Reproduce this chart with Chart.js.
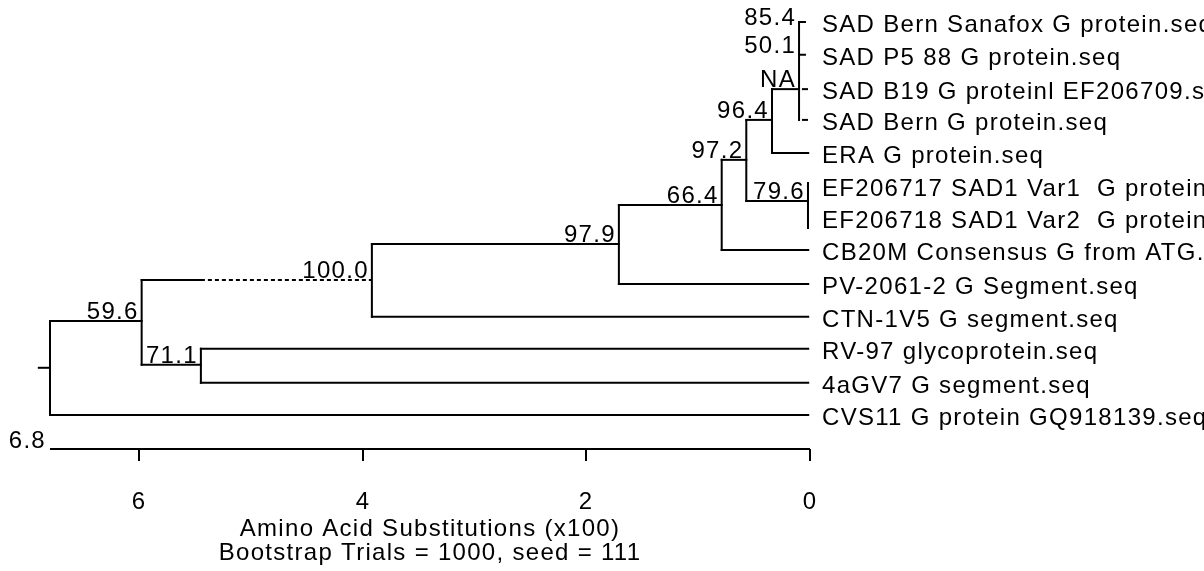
<!DOCTYPE html>
<html><head><meta charset="utf-8">
<script src="https://cdn.jsdelivr.net/npm/chart.js@4.4.1/dist/chart.umd.min.js"></script>
<style>html,body{margin:0;padding:0;background:#fff;overflow:hidden}#wrap{width:1204px;height:571px;position:relative}</style>
</head><body><div id="wrap"><canvas id="c" width="1204" height="571"></canvas></div>
<script>
// ---- leaves (taxa) ----
const leafNames = [
  'SAD Bern Sanafox G protein.seq',
  'SAD P5 88 G protein.seq',
  'SAD B19 G proteinl EF206709.seq',
  'SAD Bern G protein.seq',
  'ERA G protein.seq',
  'EF206717 SAD1 Var1  G protein.seq',
  'EF206718 SAD1 Var2  G protein.seq',
  'CB20M Consensus G from ATG.seq',
  'PV-2061-2 G Segment.seq',
  'CTN-1V5 G segment.seq',
  'RV-97 glycoprotein.seq',
  '4aGV7 G segment.seq',
  'CVS11 G protein GQ918139.seq'
];
const leafRow  = [0, 1, 2.05, 2.99, 4.0, 5.0, 6.0, 6.96, 8.0, 9.0, 9.98, 11.02, 12.0];
const leafFrom = [0.098, 0.098, 0.063, 0.063, 0.34, 0.018, 0.018, 0.79, 1.71, 3.92, 5.45, 5.45, 6.8];
const leafTo   = [0.045, 0.045, 0.027, 0.027, 0.016, 0.018, 0.018, 0.016, 0.016, 0.016, 0.016, 0.016, 0.016];

// ---- internal nodes ----
const nodeLabels     = ['NA', '79.6', '96.4', '97.2', '66.4', '97.9', '100.0', '71.1', '59.6', ''];
const nodeDist       = [0.098, 0.018, 0.34, 0.57, 0.79, 1.71, 3.92, 5.45, 5.98, 6.8];
const nodeParentDist = [0.34, 0.57, 0.57, 0.79, 1.71, 3.92, 5.98, 5.98, 6.8, 6.9];
const nodeRow        = [2.05, 5.47, 2.99, 4.21, 5.59, 6.78, 7.88, 10.47, 9.13, 10.56];
const nodeSpanTop    = [0, 4.92, 2.05, 2.99, 4.21, 5.59, 6.78, 9.98, 7.88, 9.13];
const nodeSpanBottom = [2.99, 6.29, 4.0, 5.47, 6.96, 8.0, 9.0, 11.02, 10.47, 12.0];
const nodeDashFrom   = [null, null, null, null, null, null, 5.45, null, null, null];

// extra bootstrap values on the unresolved SAD cluster
const extraLabels    = ['85.4', '50.1'];
const extraLabelDist = [0.098, 0.098];
const extraLabelRow  = [0.15, 1.0];

// ---- axis ----
const xTickValues = [6, 4, 2, 0];
const xMaxValue = 6.8;
const xTitleLines = ['Amino Acid Substitutions (x100)', 'Bootstrap Trials = 1000, seed = 111'];

// ---- build segment datasets ----
const datasets = [];
function seg(x1, y1, x2, y2, dashed) {
  datasets.push({
    data: [{x: x1, y: y1}, {x: x2, y: y2}],
    showLine: true, pointRadius: 0, pointHoverRadius: 0,
    borderColor: '#000', borderWidth: 2, borderCapStyle: dashed ? 'butt' : 'square',
    borderDash: dashed ? [4, 3] : [], clip: false, tension: 0
  });
}
leafNames.forEach((n, i) => {
  if (leafFrom[i] !== leafTo[i]) seg(leafFrom[i], leafRow[i], leafTo[i], leafRow[i], false);
});
nodeLabels.forEach((n, i) => {
  seg(nodeDist[i], nodeSpanTop[i], nodeDist[i], nodeSpanBottom[i], false);
  if (nodeDashFrom[i] !== null) {
    seg(nodeParentDist[i], nodeRow[i], nodeDashFrom[i], nodeRow[i], false);
    seg(nodeDashFrom[i], nodeRow[i], nodeDist[i], nodeRow[i], true);
  } else {
    seg(nodeParentDist[i], nodeRow[i], nodeDist[i], nodeRow[i], false);
  }
});

const FONT = '24px "Liberation Sans", Arial, sans-serif';
const textPlugin = {
  id: 'treeText',
  afterDraw(chart) {
    const ctx = chart.ctx, xs = chart.scales.x, ys = chart.scales.y, area = chart.chartArea;
    ctx.save();
    ctx.fillStyle = '#000';
    ctx.strokeStyle = '#000';
    ctx.font = FONT;
    try { ctx.letterSpacing = '1.3px'; } catch (e) {}
    // leaf names
    ctx.textAlign = 'left'; ctx.textBaseline = 'alphabetic';
    const x0 = xs.getPixelForValue(0);
    leafNames.forEach((n, i) => {
      ctx.fillText(n, x0 + 12, ys.getPixelForValue(leafRow[i]) + 10);
    });
    // bootstrap labels
    ctx.textAlign = 'right';
    nodeLabels.forEach((n, i) => {
      if (!n) return;
      ctx.fillText(n, xs.getPixelForValue(nodeDist[i]) - 3, ys.getPixelForValue(nodeRow[i]) - 2);
    });
    extraLabels.forEach((n, i) => {
      ctx.fillText(n, xs.getPixelForValue(extraLabelDist[i]) - 3, ys.getPixelForValue(extraLabelRow[i]) - 2);
    });
    // axis
    const yb = area.bottom;
    const xl = xs.getPixelForValue(xMaxValue), xr = xs.getPixelForValue(0);
    ctx.lineWidth = 2;
    ctx.beginPath(); ctx.moveTo(xl, yb); ctx.lineTo(xr, yb); ctx.stroke();
    ctx.textAlign = 'center';
    xTickValues.forEach(v => {
      const px = Math.round(xs.getPixelForValue(v));
      ctx.beginPath(); ctx.moveTo(px, yb); ctx.lineTo(px, yb + 12); ctx.stroke();
      ctx.fillText(String(v), px, yb + 60);
    });
    ctx.textAlign = 'right';
    ctx.fillText(String(xMaxValue), xl - 4, yb - 1);
    ctx.textAlign = 'center';
    const xm = (xl + xr) / 2;
    ctx.fillText(xTitleLines[0], xm, yb + 87);
    ctx.fillText(xTitleLines[1], xm, yb + 111);
    ctx.restore();
  }
};

new Chart(document.getElementById('c'), {
  type: 'scatter',
  data: { datasets },
  options: {
    responsive: false, animation: false, devicePixelRatio: 1,
    layout: { padding: { left: 50, right: 394, top: 22, bottom: 122 } },
    scales: {
      x: { type: 'linear', min: 0, max: xMaxValue, reverse: true, display: false },
      y: { type: 'linear', min: 0, max: 13.04, reverse: true, display: false }
    },
    plugins: { legend: { display: false }, tooltip: { enabled: false } },
    events: []
  },
  plugins: [textPlugin]
});
</script></body></html>
